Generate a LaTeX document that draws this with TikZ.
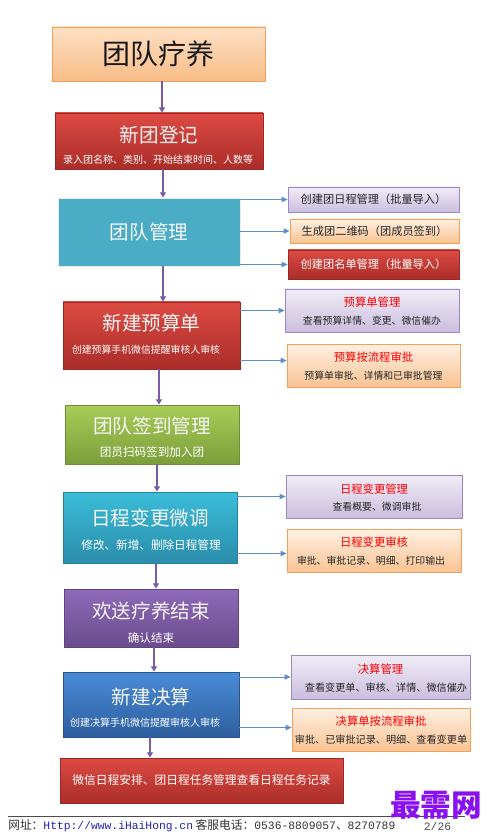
\documentclass[tikz,border=0pt]{standalone}
\usepackage{fontspec}
\setmainfont{Noto Sans CJK SC}
\newfontfamily\monofont{Liberation Mono}
\usepackage{xcolor}
\usepackage{tikz}
\usetikzlibrary{arrows.meta, positioning}
\usetikzlibrary{calc, shadows}

\definecolor{peachtop}{HTML}{FDE0C4}
\definecolor{peachbot}{HTML}{F9BD88}
\definecolor{peachline}{HTML}{F2A15C}
\definecolor{redtop}{HTML}{DD4A43}
\definecolor{redbot}{HTML}{AA2D29}
\definecolor{redline}{HTML}{9A2925}
\definecolor{tealfill}{HTML}{4BACC6}
\definecolor{greentop}{HTML}{A8CD57}
\definecolor{greenbot}{HTML}{7C9E3B}
\definecolor{greenline}{HTML}{6F8F35}
\definecolor{cyantop}{HTML}{3BBDD9}
\definecolor{cyanbot}{HTML}{2A8DAB}
\definecolor{cyanline}{HTML}{25809C}
\definecolor{violettop}{HTML}{8F6BBA}
\definecolor{violetbot}{HTML}{6A4B8C}
\definecolor{violetline}{HTML}{5E4380}
\definecolor{bluetop}{HTML}{4A8CD8}
\definecolor{bluebot}{HTML}{2E5E9E}
\definecolor{blueline}{HTML}{29548C}
\definecolor{lavtop}{HTML}{F0ECF6}
\definecolor{lavbot}{HTML}{CBBEDF}
\definecolor{lavline}{HTML}{9C88BE}
\definecolor{lighttop}{HTML}{FEF0E3}
\definecolor{lightbot}{HTML}{FAC392}
\definecolor{linkblue}{HTML}{5A8FCB}
\definecolor{flowpurple}{HTML}{7B5AA6}
\definecolor{urlblue}{HTML}{2323B0}
\definecolor{markviolet}{HTML}{8A10F2}

\begin{document}
\begin{tikzpicture}[x=0.75pt, y=-0.75pt,
    box/.style={rectangle, inner sep=0pt, line width=0.6pt,
        drop shadow={shadow xshift=0.9pt, shadow yshift=-0.9pt, opacity=0.3}},
    peachbox/.style={box, draw=peachline, top color=peachtop, bottom color=peachbot},
    redbox/.style={box, draw=redline, top color=redtop, bottom color=redbot},
    tealbox/.style={box, draw=white!85!gray, fill=tealfill},
    greenbox/.style={box, draw=greenline, top color=greentop, bottom color=greenbot},
    cyanbox/.style={box, draw=cyanline, top color=cyantop, bottom color=cyanbot},
    violetbox/.style={box, draw=violetline, top color=violettop, bottom color=violetbot},
    bluebox/.style={box, draw=blueline, top color=bluetop, bottom color=bluebot},
    lavbox/.style={box, draw=lavline, top color=lavtop, bottom color=lavbot},
    lightbox/.style={box, draw=peachline, top color=lighttop, bottom color=lightbot},
    titletxt/.style={text=white!96!black, font=\fontsize{14.7}{16}\selectfont},
    subtxt/.style={text=white, font=\fontsize{8.7}{10}\selectfont},
    rtitle/.style={text=red, font=\fontsize{8.5}{10}\selectfont},
    rsub/.style={text=black!85, font=\fontsize{7.4}{9}\selectfont},
    flow/.style={draw=flowpurple, line width=1.5pt, -{Triangle[length=4pt, width=4.5pt]}},
    link/.style={draw=linkblue, line width=0.7pt, -{Triangle[length=4.5pt, width=4pt]}}]
            \path[use as bounding box, fill=white] (0,0) rectangle (502,837);

            \node[peachbox, minimum width=159.75pt, minimum height=40.5pt,
                font=\fontsize{21}{24}\selectfont, text=black!90] (top) at (158.5,54) {团队疗养};

            \node[redbox, minimum width=156pt, minimum height=42pt] (reg) at (159,141) {};
            \node[titletxt] (regt) at (159,135) {新团登记};
            \node[subtxt, font=\fontsize{7.5}{9}\selectfont] (regs) at (158,160) {录入团名称、类别、开始结束时间、人数等};

            \node[tealbox, minimum width=136.5pt, minimum height=51pt, titletxt] (mgmt) at (149,232) {团队管理};
            \node[lavbox, minimum width=128.25pt, minimum height=18.75pt,
                text=black!85, font=\fontsize{8.4}{10}\selectfont] (day) at (373.5,199.5) {创建团日程管理（批量导入）};
            \node[lightbox, minimum width=126.75pt, minimum height=18pt,
                text=black!85, font=\fontsize{8.4}{10}\selectfont] (qr) at (374.5,231) {生成团二维码（团成员签到）};
            \node[redbox, minimum width=128.25pt, minimum height=21.75pt,
                text=white, font=\fontsize{8.4}{10}\selectfont] (roster) at (373.5,264.5) {创建团名单管理（批量导入）};

            \node[redbox, minimum width=132.75pt, minimum height=50.25pt] (budget) at (151.5,335.5) {};
            \node[titletxt] (budgett) at (151.5,323) {新建预算单};
            \node[subtxt, font=\fontsize{7.4}{9}\selectfont] (budgets) at (146,350) {创建预算手机微信提醒审核人审核};
            \node[lavbox, minimum width=130.5pt, minimum height=32.25pt] (bview) at (372,310.5) {};
            \node[rtitle] (bviewt) at (372,302) {预算单管理};
            \node[rsub] (bviews) at (372,321) {查看预算详情、变更、微信催办};
            \node[lightbox, minimum width=129.75pt, minimum height=32.25pt] (bflow) at (373.5,365.5) {};
            \node[rtitle] (bflowt) at (373.5,357) {预算按流程审批};
            \node[rsub] (bflows) at (373.5,376) {预算单审批、详情和已审批管理};

            \node[greenbox, minimum width=130.5pt, minimum height=44.25pt] (sign) at (152,434.5) {};
            \node[titletxt] (signt) at (152,426) {团队签到管理};
            \node[subtxt] (signs) at (152,452) {团员扫码签到加入团};

            \node[cyanbox, minimum width=130.5pt, minimum height=53.25pt] (sched) at (150,527.5) {};
            \node[titletxt] (schedt) at (150,518) {日程变更微调};
            \node[subtxt] (scheds) at (151,545) {修改、新增、删除日程管理};
            \node[lavbox, minimum width=132pt, minimum height=32.25pt] (sview) at (374,496.5) {};
            \node[rtitle] (sviewt) at (374,489) {日程变更管理};
            \node[rsub] (sviews) at (377,507) {查看概要、微调审批};
            \node[lightbox, minimum width=130.5pt, minimum height=32.25pt] (scheck) at (374,550.5) {};
            \node[rtitle] (scheckt) at (374,542) {日程变更审核};
            \node[rsub] (schecks) at (371,561) {审批、审批记录、明细、打印输出};

            \node[violetbox, minimum width=130.5pt, minimum height=43.5pt] (bye) at (151,618) {};
            \node[titletxt] (byet) at (151,611) {欢送疗养结束};
            \node[subtxt] (byes) at (151,638) {确认结束};

            \node[bluebox, minimum width=132pt, minimum height=48.75pt] (settle) at (151,704.5) {};
            \node[titletxt] (settlet) at (151,697) {新建决算};
            \node[subtxt, font=\fontsize{7.5}{9}\selectfont] (settles) at (145,723) {创建决算手机微信提醒审核人审核};
            \node[lavbox, minimum width=134.25pt, minimum height=33pt] (fview) at (380.5,677) {};
            \node[rtitle] (fviewt) at (380.5,669) {决算管理};
            \node[rsub, font=\fontsize{7.6}{9}\selectfont] (fviews) at (386,688) {查看变更单、审核、详情、微信催办};
            \node[lightbox, minimum width=133.5pt, minimum height=32.25pt] (fflow) at (381,729.5) {};
            \node[rtitle] (fflowt) at (381,721) {决算单按流程审批};
            \node[rsub, font=\fontsize{7.6}{9}\selectfont] (fflows) at (381,740) {审批、已审批记录、明细、查看变更单};

            \node[redbox, minimum width=212.25pt, minimum height=33.75pt,
                text=white, font=\fontsize{8.8}{10}\selectfont] (task) at (201.5,780.5) {微信日程安排、团日程任务管理查看日程任务记录};

            \draw[flow] ($(top.south)+(3.5,0)$) -- ($(reg.north)+(3,0)$);
            \draw[flow] ($(reg.south)+(4,0)$) -- ($(mgmt.north)+(14,0)$);
            \draw[flow] ($(mgmt.south)+(14,0)$) -- ($(budget.north)+(11.5,0)$);
            \draw[flow] ($(budget.south)+(7.5,0)$) -- ($(sign.north)+(7,0)$);
            \draw[flow] ($(sign.south)+(5,0)$) -- ($(sched.north)+(7,0)$);
            \draw[flow] ($(sched.south)+(6,0)$) -- ($(bye.north)+(5,0)$);
            \draw[flow] ($(bye.south)+(3,0)$) -- ($(settle.north)+(3,0)$);
            \draw[flow] ($(settle.south)+(-1,0)$) -- ($(task.north)+(-51.5,0)$);

            \draw[link] (mgmt.east |- day.west) -- (day.west);
            \draw[link] (mgmt.east |- qr.west) -- (qr.west);
            \draw[link] (mgmt.east |- roster.west) -- (roster.west);
            \draw[link] (budget.east |- bview.west) -- (bview.west);
            \draw[link] ($(budget.east |- bflow.west)+(0,-5)$) -- ($(bflow.west)+(0,-5)$);
            \draw[link] (sched.east |- sview.west) -- (sview.west);
            \draw[link] ($(sched.east |- scheck.west)+(0,3)$) -- ($(scheck.west)+(0,3)$);
            \draw[link] (settle.east |- fview.west) -- (fview.west);
            \draw[link] ($(settle.east |- fflow.west)+(0,-2)$) -- ($(fflow.west)+(0,-2)$);

            \draw[black!70, line width=0.6pt] (8,816) -- (465,816);
            \node[anchor=west, inner sep=0pt, font=\fontsize{8.8}{10}\selectfont, text=black!80] (foot) at (8,826)
                {网址：{\monofont\fontsize{8.5}{10}\selectfont\color{urlblue}Http://www.iHaiHong.cn} 客服电话：{\monofont\fontsize{8.5}{10}\selectfont 0536-8809057}、{\monofont\fontsize{8.5}{10}\selectfont 8270789}};
            \node[inner sep=0pt, font=\monofont\fontsize{8.5}{10}\selectfont, text=black!70] (page) at (437.5,826) {2/26};
            \node[inner sep=0pt, font=\bfseries\fontsize{23}{26}\selectfont, text=markviolet] (mark) at (436,805) {最需网};
        \end{tikzpicture}
\end{document}
